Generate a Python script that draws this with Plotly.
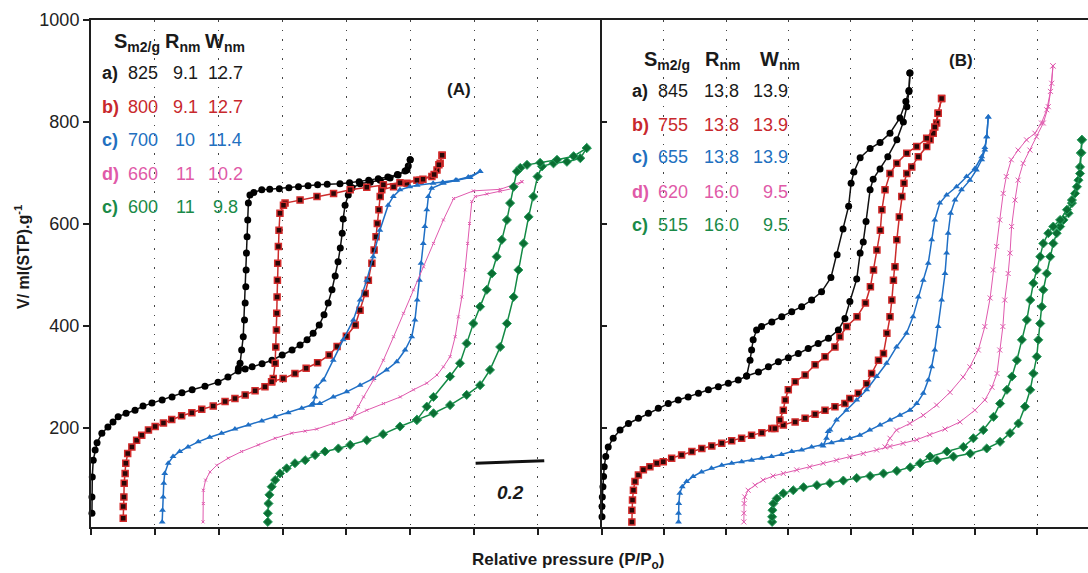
import plotly.graph_objects as go

# ---------------- data ----------------
sample_labels = ["a)", "b)", "c)", "d)", "c)"]
line_colors = ["#111111", "#cc2b2b", "#1f6fc5", "#e05aae", "#138a45"]
text_colors = ["#1a1a1a", "#c8282d", "#2270c0", "#e05aa8", "#1a8a48"]

offsets_A = [0.0, 0.10, 0.222, 0.351, 0.553]
offsets_B = [0.0, 0.096, 0.246, 0.455, 0.547]

S_A = ["825", "800", "700", "660", "600"]
R_A = ["9.1", "9.1", "10", "11", "11"]
W_A = ["12.7", "12.7", "11.4", "10.2", "9.8"]
S_B = ["845", "755", "655", "620", "515"]
R_B = ["13.8", "13.8", "13.8", "16.0", "16.0"]
W_B = ["13.9", "13.9", "13.9", "9.5", "9.5"]

grid_ticks = [0, 0.2, 0.4, 0.6, 0.8, 1.0, 1.2, 1.4, 1.6]
y_ticks = [200, 400, 600, 800, 1000]

# ---- Panel A ----
A_a_ads_p = [0.003,0.003,0.004,0.007,0.013,0.019,0.034,0.053,0.069,0.085,0.110,0.138,0.163,0.191,0.223,0.254,0.285,0.317,0.357,0.398,0.429,0.461,0.483,0.505,0.536,0.567,0.599,0.630,0.655,0.677,0.696,0.715,0.730,0.743,0.755,0.765,0.774,0.781,0.787,0.790,0.796,0.806,0.818,0.843,0.875,0.906,0.937,0.962,0.984,0.994,1.0]
A_a_ads_v = [33,65,104,137,157,171,190,202,212,222,229,235,243,249,255,261,269,275,282,290,300,312,316,320,326,333,343,353,363,373,386,402,422,445,471,498,526,553,582,610,637,657,671,679,682,686,690,696,704,714,726]
A_a_des_p = [1.0,0.99,0.96,0.93,0.90,0.87,0.84,0.81,0.78,0.74,0.71,0.68,0.65,0.62,0.59,0.56,0.535,0.51,0.498,0.493,0.491,0.489,0.487,0.486,0.485,0.483,0.481,0.477,0.472,0.467,0.462]
A_a_des_v = [726,706,697,692,689,686,683,681,679,678,677,675,673,671,669,668,667,662,657,641,608,575,543,510,477,445,412,379,353,327,317]

A_b_ads_p = [0.001,0.001,0.003,0.004,0.007,0.009,0.015,0.028,0.043,0.059,0.080,0.101,0.127,0.153,0.184,0.216,0.247,0.283,0.320,0.351,0.383,0.414,0.445,0.466,0.502,0.539,0.574,0.610,0.646,0.671,0.700,0.728,0.743,0.759,0.769,0.780,0.787,0.793,0.797,0.802,0.806,0.811,0.848,0.890,0.931,0.968,0.984,0.994,1.0]
A_b_ads_v = [23,46,65,92,111,131,150,163,176,186,196,203,210,217,224,230,237,243,252,258,265,273,281,291,297,307,317,328,343,360,380,402,431,464,490,523,549,575,601,628,654,667,673,680,686,693,706,719,735]
A_b_des_p = [1.0,0.99,0.975,0.94,0.921,0.868,0.816,0.764,0.712,0.66,0.608,0.555,0.508,0.503,0.492,0.489,0.487,0.485,0.484,0.483,0.482,0.481,0.479,0.477,0.471,0.466]
A_b_des_v = [735,716,697,688,686,681,677,672,667,660,654,647,641,637,621,588,556,523,490,457,425,392,359,327,297,291]

A_c_ads_p = [0.001,0.002,0.004,0.006,0.009,0.020,0.035,0.056,0.082,0.114,0.150,0.187,0.229,0.271,0.313,0.354,0.396,0.438,0.469,0.495,0.537,0.579,0.621,0.662,0.704,0.736,0.762,0.783,0.793,0.800,0.807,0.812,0.819,0.824,0.830,0.835,0.845,0.882,0.924,0.966,0.997]
A_c_ads_v = [16,39,65,92,111,131,144,154,163,173,182,190,198,206,214,222,230,239,245,248,261,271,284,297,314,330,353,379,412,451,490,523,562,595,628,654,670,680,686,691,703]
A_c_des_p = [0.997,0.96,0.92,0.88,0.85,0.80,0.777,0.746,0.725,0.709,0.683,0.662,0.642,0.621,0.600,0.568,0.537,0.506,0.485,0.480,0.474,0.469]
A_c_des_v = [703,692,686,682,680,676,673,667,654,637,588,536,490,451,412,373,333,294,281,261,248,245]

A_d_ads_p = [0.0,0.001,0.001,0.008,0.022,0.043,0.079,0.121,0.173,0.226,0.278,0.32,0.356,0.408,0.461,0.513,0.565,0.618,0.659,0.701,0.733,0.753,0.774,0.790,0.800,0.811,0.821,0.829,0.835,0.842,0.853,0.889,0.931,0.973,0.999]
A_d_ads_v = [16,52,78,98,114,127,141,154,167,180,190,194,198,209,220,235,248,261,275,288,304,320,340,379,418,457,510,562,601,644,654,659,664,670,683]
A_d_des_p = [0.999,0.931,0.847,0.785,0.753,0.722,0.691,0.659,0.628,0.597,0.565,0.534,0.503,0.487,0.476,0.466]
A_d_des_v = [683,668,665,650,608,562,516,471,425,379,333,294,261,242,229,219]

A_e_ads_p = [0.001,0.001,0.003,0.006,0.013,0.024,0.039,0.060,0.086,0.118,0.149,0.180,0.222,0.259,0.311,0.362,0.415,0.468,0.520,0.572,0.624,0.666,0.697,0.729,0.750,0.771,0.786,0.802,0.818,0.833,0.846,0.860,0.896,0.938,0.980,1.0]
A_e_ads_v = [16,33,52,69,85,98,111,121,131,137,147,154,160,167,176,188,203,216,229,245,265,284,314,359,405,457,510,562,614,654,693,713,719,722,729,749]
A_e_des_p = [1.0,0.959,0.907,0.854,0.813,0.792,0.781,0.771,0.760,0.750,0.734,0.718,0.703,0.687,0.666,0.645,0.624,0.603,0.572,0.520,0.499,0.468]
A_e_des_v = [749,733,726,720,716,710,703,673,641,608,569,536,503,471,438,405,366,327,301,261,242,216]

# ---- Panel B ----
B_a_ads_p = [0.001,0.001,0.002,0.004,0.006,0.008,0.013,0.021,0.037,0.059,0.086,0.118,0.150,0.182,0.214,0.246,0.278,0.311,0.343,0.375,0.407,0.439,0.466,0.504,0.536,0.568,0.600,0.632,0.664,0.696,0.729,0.761,0.782,0.798,0.820,0.831,0.841,0.850,0.863,0.873,0.895,0.920,0.949,0.970,0.981,0.988,0.991]
B_a_ads_v = [26,46,65,85,105,124,144,163,180,196,209,219,229,239,248,255,261,268,275,281,288,294,302,310,320,330,338,346,356,366,376,392,415,448,492,543,565,605,667,688,708,732,765,800,830,860,896]
B_a_des_p = [0.991,0.988,0.978,0.959,0.927,0.895,0.863,0.831,0.811,0.802,0.794,0.776,0.757,0.737,0.707,0.675,0.643,0.611,0.579,0.547,0.514,0.498,0.487,0.482,0.477,0.466]
B_a_des_v = [896,862,840,808,778,760,748,730,702,680,635,590,540,495,467,451,438,428,418,408,399,392,373,353,333,302]

B_b_ads_p = [0.001,0.001,0.003,0.006,0.011,0.022,0.038,0.059,0.081,0.102,0.129,0.161,0.194,0.226,0.258,0.290,0.322,0.354,0.386,0.419,0.451,0.488,0.526,0.558,0.590,0.622,0.654,0.686,0.702,0.729,0.756,0.772,0.794,0.810,0.821,0.831,0.837,0.842,0.847,0.853,0.861,0.869,0.876,0.885,0.901,0.922,0.949,0.960,0.970,0.981,0.986,0.997]
B_b_ads_v = [16,39,59,78,95,108,118,124,131,134,141,147,154,160,165,170,175,180,186,191,199,206,212,219,227,235,242,248,258,268,287,307,333,346,386,418,451,490,516,569,614,654,680,699,712,732,752,765,778,798,817,846]
B_b_des_p = [0.997,0.986,0.975,0.949,0.917,0.885,0.853,0.831,0.815,0.805,0.800,0.789,0.778,0.768,0.752,0.725,0.692,0.670,0.654,0.622,0.590,0.558,0.526,0.504,0.494,0.488,0.477,0.461]
B_b_des_v = [846,817,790,768,752,739,719,699,667,628,588,549,510,477,445,418,399,379,359,340,324,304,291,275,255,235,216,199]

B_c_ads_p = [0.001,0.001,0.002,0.005,0.013,0.027,0.048,0.075,0.107,0.140,0.172,0.204,0.236,0.268,0.300,0.332,0.365,0.397,0.429,0.461,0.493,0.525,0.552,0.584,0.616,0.649,0.681,0.713,0.745,0.767,0.788,0.804,0.815,0.825,0.836,0.847,0.858,0.863,0.868,0.876,0.890,0.911,0.938,0.959,0.976,0.986,0.992,0.997]
B_c_ads_v = [16,33,52,72,85,95,105,114,121,127,131,134,137,141,144,148,154,157,163,167,171,176,180,186,196,206,216,225,235,248,268,294,320,353,399,451,503,543,582,621,647,667,686,706,726,745,771,810]
B_c_des_p = [0.997,0.992,0.986,0.976,0.954,0.927,0.895,0.863,0.841,0.825,0.815,0.804,0.788,0.772,0.755,0.734,0.702,0.670,0.638,0.606,0.574,0.541,0.509,0.488,0.482,0.477,0.466]
B_c_des_v = [810,771,750,732,709,693,673,657,641,608,569,523,490,457,418,386,359,327,301,275,255,235,216,196,193,180,165]

B_d_ads_p = [0.002,0.002,0.003,0.005,0.016,0.038,0.064,0.096,0.129,0.172,0.214,0.257,0.300,0.343,0.386,0.429,0.472,0.514,0.558,0.600,0.649,0.697,0.745,0.777,0.800,0.816,0.825,0.835,0.841,0.852,0.858,0.863,0.874,0.884,0.900,0.922,0.943,0.965,0.981,0.992,0.996]
B_d_ads_v = [16,33,52,65,78,88,98,106,111,118,124,131,137,144,150,157,164,170,177,187,198,212,235,255,280,307,353,399,451,503,543,595,647,686,719,745,771,798,830,876,910]
B_d_des_p = [0.996,0.988,0.976,0.959,0.938,0.911,0.884,0.862,0.846,0.836,0.825,0.815,0.804,0.794,0.777,0.756,0.729,0.707,0.665,0.622,0.579,0.536,0.493,0.472,0.456]
B_d_des_v = [910,860,824,798,778,765,745,726,693,660,608,556,510,455,399,353,320,300,270,245,225,209,196,180,163]

B_e_ads_p = [0.001,0.001,0.002,0.005,0.016,0.037,0.069,0.102,0.145,0.187,0.230,0.273,0.316,0.359,0.402,0.445,0.477,0.531,0.584,0.638,0.691,0.734,0.766,0.793,0.814,0.831,0.841,0.852,0.857,0.863,0.868,0.873,0.884,0.895,0.905,0.916,0.927,0.938,0.954,0.965,0.975,0.986,0.991,0.994,0.997]
B_e_ads_v = [16,26,39,52,62,72,78,84,88,92,97,102,106,111,116,123,131,137,144,150,160,173,190,209,242,275,307,340,373,405,438,471,503,536,562,582,595,608,621,641,660,686,712,739,765]
B_e_des_p = [0.997,0.995,0.991,0.981,0.965,0.949,0.927,0.905,0.889,0.873,0.863,0.852,0.841,0.831,0.820,0.804,0.788,0.772,0.756,0.734,0.713,0.680,0.648,0.616,0.563,0.509,0.477]
B_e_des_v = [765,740,699,673,647,628,608,595,582,562,536,510,484,451,412,373,333,301,275,248,222,196,180,163,154,144,131]

panel_A = [
    (A_a_ads_p, A_a_ads_v, A_a_des_p, A_a_des_v),
    (A_b_ads_p, A_b_ads_v, A_b_des_p, A_b_des_v),
    (A_c_ads_p, A_c_ads_v, A_c_des_p, A_c_des_v),
    (A_d_ads_p, A_d_ads_v, A_d_des_p, A_d_des_v),
    (A_e_ads_p, A_e_ads_v, A_e_des_p, A_e_des_v),
]
panel_B = [
    (B_a_ads_p, B_a_ads_v, B_a_des_p, B_a_des_v),
    (B_b_ads_p, B_b_ads_v, B_b_des_p, B_b_des_v),
    (B_c_ads_p, B_c_ads_v, B_c_des_p, B_c_des_v),
    (B_d_ads_p, B_d_ads_v, B_d_des_p, B_d_des_v),
    (B_e_ads_p, B_e_ads_v, B_e_des_p, B_e_des_v),
]

# ---------------- styles ----------------
def make_markers(pink_size):
    return [
        dict(symbol="circle", size=7, color="#000000"),
        dict(symbol="square", size=6, color="#2a0808", line=dict(color="#d42c2c", width=1.5)),
        dict(symbol="triangle-up", size=6, color="#1f6fc5"),
        dict(symbol="x-thin", size=pink_size, color="#e05aae", line=dict(color="#e05aae", width=1)),
        dict(symbol="diamond", size=7, color="#0b6e33", line=dict(color="#2aa060", width=1)),
    ]


line_widths = [1.5, 1.5, 1.5, 1.0, 1.5]

W, H = 1088, 573
ML, MR, MT, MB = 91, 0, 20, 46
PW, PH = W - ML - MR, H - MT - MB
split_px = 601.7
dA = (split_px - ML) / PW
xB_max = (W - split_px) / 311.0


def px2x(px):
    return (px - ML) / PW


def px2y(py):
    return (H - MB - py) / PH


FONT = "Liberation Sans, Arial, Helvetica, sans-serif"

fig = go.Figure()

for panel, offsets, xa, ya, psize in [(panel_A, offsets_A, "x", "y", 3),
                                      (panel_B, offsets_B, "x2", "y2", 5)]:
    mk = make_markers(psize)
    for i, (ap, av, dp, dv) in enumerate(panel):
        for ps, vs in [(ap, av), (dp, dv)]:
            fig.add_trace(go.Scatter(
                x=[p + offsets[i] for p in ps], y=vs,
                mode="lines+markers",
                line=dict(color=line_colors[i], width=line_widths[i]),
                marker=mk[i],
                xaxis=xa, yaxis=ya, cliponaxis=False,
                hoverinfo="skip",
            ))

axis_line = "#1e1e1e"
fig.update_layout(
    width=W, height=H,
    margin=dict(l=ML, r=MR, t=MT, b=MB, pad=0),
    paper_bgcolor="white", plot_bgcolor="white",
    showlegend=False,
    font=dict(family=FONT, color="#1a1a1a"),
    xaxis=dict(domain=[0, dA], range=[0, 1.6], tickvals=grid_ticks, ticks="outside",
               ticklen=6, tickwidth=1.5, tickcolor=axis_line, showticklabels=False,
               showgrid=True, gridcolor="#444444", gridwidth=1, griddash="1.5px,8px",
               showline=True, linecolor=axis_line, linewidth=2, mirror=True,
               zeroline=False, anchor="y"),
    yaxis=dict(domain=[0, 1], range=[6, 1000], tickvals=y_ticks, ticks="outside",
               ticklen=6, tickwidth=1.5, tickcolor=axis_line,
               tickfont=dict(size=18, color="#222222", family=FONT),
               showgrid=False, showline=True, linecolor=axis_line, linewidth=2,
               zeroline=False, anchor="x"),
    xaxis2=dict(domain=[dA, 1], range=[0, xB_max], tickvals=grid_ticks, ticks="outside",
                ticklen=6, tickwidth=1.5, tickcolor=axis_line, showticklabels=False,
                showgrid=True, gridcolor="#444444", gridwidth=1, griddash="1.5px,8px",
                showline=True, linecolor=axis_line, linewidth=2, mirror=True,
                zeroline=False, anchor="y2"),
    yaxis2=dict(domain=[0, 1], range=[6, 1000], tickvals=y_ticks, ticks="inside",
                ticklen=5, tickwidth=1.5, tickcolor=axis_line, showticklabels=False,
                showgrid=False, showline=True, linecolor=axis_line, linewidth=2,
                zeroline=False, anchor="x2"),
)

ann = []


def txt(px, py, text, size=18, color="#1a1a1a", xanchor="center", yanchor="middle", angle=0):
    ann.append(dict(x=px2x(px), y=px2y(py), xref="paper", yref="paper", text=text,
                    showarrow=False, xanchor=xanchor, yanchor=yanchor, textangle=angle,
                    font=dict(size=size, color=color, family=FONT)))


# table A
hdr_y_A = 42
txt(112, hdr_y_A, "<b>S<sub>m2/g</sub></b>", size=20, xanchor="left")
txt(163, hdr_y_A, "<b>R<sub>nm</sub></b>", size=20, xanchor="left")
txt(203, hdr_y_A, "<b>W<sub>nm</sub></b>", size=20, xanchor="left")
rows_A = [73, 107, 140, 174, 207]
for i in range(5):
    c = text_colors[i]
    txt(110, rows_A[i], "<b>" + sample_labels[i] + "</b>", size=18, color=c)
    txt(143, rows_A[i], S_A[i], size=18, color=c)
    txt(185, rows_A[i], R_A[i], size=18, color=c)
    txt(225, rows_A[i], W_A[i], size=18, color=c)

# table B
hdr_y_B = 61
txt(642, hdr_y_B, "<b>S<sub>m2/g</sub></b>", size=20, xanchor="left")
txt(703, hdr_y_B, "<b>R<sub>nm</sub></b>", size=20, xanchor="left")
txt(758, hdr_y_B, "<b>W<sub>nm</sub></b>", size=20, xanchor="left")
rows_B = [91, 125, 157, 192, 225]
for i in range(5):
    c = text_colors[i]
    txt(640, rows_B[i], "<b>" + sample_labels[i] + "</b>", size=18, color=c)
    txt(673, rows_B[i], S_B[i], size=18, color=c)
    txt(721, rows_B[i], R_B[i], size=18, color=c)
    txt(790, rows_B[i], W_B[i], size=18, color=c, xanchor="right")

# panel labels
txt(459, 89, "<b>(A)</b>", size=17)
txt(961, 61, "<b>(B)</b>", size=17)

# axis titles
txt(568, 561, "<b>Relative pressure (P/P<sub>o</sub>)</b>", size=17)
txt(22, 257, "<b>V/ ml(STP).g<sup>-1</sup></b>", size=16, angle=-90)

# scale bar label
ann.append(dict(x=1.313, y=74, xref="x", yref="y", text="<b><i>0.2</i></b>", showarrow=False,
                font=dict(size=19, color="#1a1a1a", family=FONT)))

fig.update_layout(annotations=ann)
fig.add_shape(type="line", xref="x", yref="y", x0=1.205, x1=1.42, y0=131, y1=136,
              line=dict(color="#111111", width=3))

fig.write_html("out.html")
